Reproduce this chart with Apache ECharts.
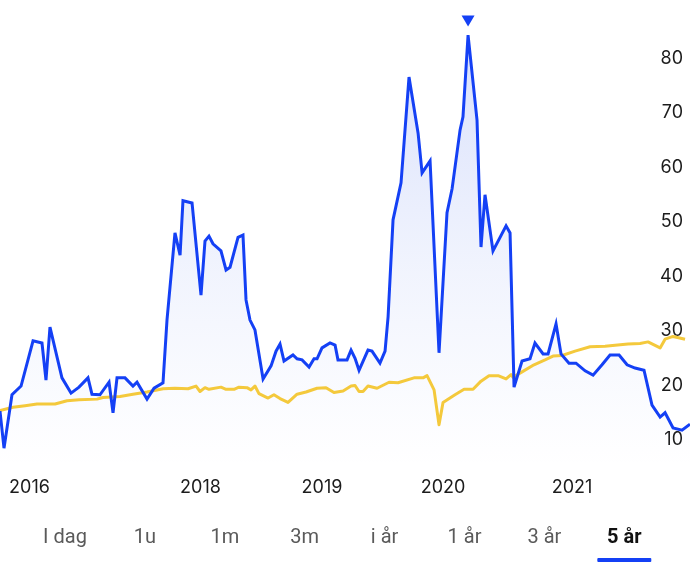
<!DOCTYPE html>
<html>
<head>
<meta charset="utf-8">
<script src="https://cdn.jsdelivr.net/npm/echarts@6/dist/echarts.min.js"></script>
<style>
  html, body { margin: 0; padding: 0; background: #ffffff; }
  #chart { width: 690px; height: 563px; }
</style>
</head>
<body>
<div id="chart"></div>
<script>
// ---- data (dates as decimal years) ----
const blueDates = [
  2016.350,2016.383,2016.449,2016.524,2016.623,2016.697,2016.730,2016.763,2016.862,2016.937,
  2017.003,2017.077,2017.110,2017.176,2017.251,2017.284,2017.317,2017.383,2017.449,2017.482,
  2017.565,2017.623,2017.697,2017.730,2017.796,2017.838,2017.862,2017.937,2018.011,2018.044,
  2018.077,2018.110,2018.176,2018.218,2018.251,2018.317,2018.358,2018.383,2018.416,2018.457,
  2018.524,2018.590,2018.631,2018.664,2018.697,2018.771,2018.805,2018.846,2018.904,2018.945,
  2018.970,2019.011,2019.077,2019.119,2019.143,2019.218,2019.251,2019.284,2019.317,2019.391,
  2019.424,2019.490,2019.532,2019.557,2019.598,2019.664,2019.730,2019.805,2019.838,2019.904,
  2019.978,2020.044,2020.086,2020.152,2020.176,2020.218,2020.292,2020.325,2020.358,2020.424,
  2020.532,2020.565,2020.598,2020.664,2020.730,2020.771,2020.838,2020.879,2020.945,2020.986,
  2021.052,2021.110,2021.185,2021.251,2021.325,2021.391,2021.466,2021.532,2021.598,2021.672,
  2021.738,2021.805,2021.846,2021.912,2021.986,2022.052
];
const blueValues = [
  15.3,8.5,18.3,19.9,28.2,27.8,21.0,30.7,21.4,18.6,
  19.7,21.4,18.4,18.3,20.6,15.0,21.4,21.4,19.9,20.6,
  17.5,19.5,20.5,32.0,48.0,43.9,53.9,53.5,36.6,46.5,
  47.4,46.0,44.7,41.2,41.7,47.2,47.6,35.7,32.0,30.2,
  21.2,23.6,26.3,27.6,24.5,25.6,24.9,24.7,23.4,24.9,
  24.9,26.9,27.8,27.4,24.7,24.7,26.5,25.0,22.8,26.5,
  26.3,24.1,26.3,32.6,50.4,57.2,76.6,66.3,59.0,61.2,
  26.0,51.7,56.1,66.9,69.3,84.3,68.7,45.4,55.0,44.7,
  49.3,48.0,19.7,24.5,24.9,27.8,25.8,25.8,31.3,25.8,
  24.1,24.1,22.7,21.9,23.8,25.6,25.6,23.8,23.2,22.8,
  16.4,14.2,15.0,12.2,11.8,12.9
];
const yellowDates = [
  2016.350,2016.457,2016.557,2016.656,2016.805,2016.904,2017.003,2017.152,2017.201,2017.342,
  2017.449,2017.565,2017.697,2017.796,2017.904,2017.970,2018.003,2018.044,2018.077,2018.176,
  2018.218,2018.284,2018.325,2018.391,2018.424,2018.457,2018.490,2018.565,2018.614,2018.664,
  2018.730,2018.805,2018.879,2018.970,2019.044,2019.110,2019.185,2019.251,2019.284,2019.317,
  2019.350,2019.391,2019.466,2019.565,2019.639,2019.771,2019.846,2019.879,2019.937,2019.978,
  2020.011,2020.110,2020.185,2020.259,2020.325,2020.391,2020.466,2020.532,2020.573,2020.590,
  2020.664,2020.763,2020.854,2020.920,2020.995,2021.102,2021.226,2021.350,2021.433,2021.540,
  2021.639,2021.705,2021.805,2021.846,2021.912,2022.011
];
const yellowValues = [
  15.4,16.0,16.3,16.6,16.6,17.2,17.4,17.5,17.8,18.0,
  18.4,18.8,19.4,19.5,19.4,19.9,18.9,19.6,19.3,19.7,
  19.3,19.3,19.7,19.6,19.2,19.9,18.5,17.7,18.3,17.6,
  16.9,18.4,18.8,19.5,19.6,18.7,19.0,19.9,20.0,18.9,
  18.9,19.9,19.5,20.6,20.5,21.4,21.4,21.8,19.2,12.8,
  16.9,18.3,19.3,19.3,20.8,21.8,21.8,21.2,22.0,21.5,
  22.5,23.8,24.7,25.4,25.5,26.3,27.1,27.2,27.4,27.6,
  27.7,28.0,26.9,28.5,29.0,28.5
];
const yTicks = [10, 20, 30, 40, 50, 60, 70, 80];
const xTickPos = [2016.594, 2018.007, 2019.011, 2020.011, 2021.077];
const xTickLabels = ['2016', '2018', '2019', '2020', '2021'];
const tabs = ['I dag', '1u', '1m', '3m', 'i år', '1 år', '3 år', '5 år'];
const activeTab = '5 år';

// ---- chart ----
const BLUE = '#1440f5';
const YELLOW = '#f4c93c';
const bluePairs = blueDates.map((d, i) => [d, blueValues[i]]);
const yellowPairs = yellowDates.map((d, i) => [d, yellowValues[i]]);

const tabElements = [];
tabs.forEach((t, i) => {
  const active = t === activeTab;
  tabElements.push({
    type: 'text',
    x: 65 + i * 79.9,
    y: 538,
    style: {
      text: t,
      fill: active ? '#111111' : '#5a5a5a',
      font: (active ? 'bold ' : '') + '20px Roboto',
      textAlign: 'center',
      textVerticalAlign: 'middle'
    }
  });
  if (active) {
    tabElements.push({
      type: 'rect',
      shape: { x: 65 + i * 79.9 - 27, y: 558, width: 54, height: 4, r: 1 },
      style: { fill: BLUE }
    });
  }
});

const chart = echarts.init(document.getElementById('chart'), null, { renderer: 'canvas' });
chart.setOption({
  animation: false,
  backgroundColor: '#ffffff',
  grid: { left: 0, right: 0, top: 4, height: 463.25, containLabel: false },
  xAxis: {
    type: 'value',
    min: 2016.35,
    max: 2022.052,
    axisLine: { show: false },
    axisTick: { show: false },
    splitLine: { show: false },
    axisLabel: {
      customValues: xTickPos,
      formatter: function (v) {
        let best = 0, bd = Infinity;
        xTickPos.forEach((p, i) => { const d = Math.abs(p - v); if (d < bd) { bd = d; best = i; } });
        return xTickLabels[best];
      },
      margin: 11,
      color: '#1c1c1c',
      fontSize: 18,
      fontFamily: 'Inter'
    }
  },
  yAxis: {
    type: 'value',
    position: 'right',
    min: 5,
    max: 90,
    axisLine: { show: false },
    axisTick: { show: false },
    splitLine: { show: false },
    axisLabel: {
      customValues: yTicks,
      inside: true,
      margin: 7,
      color: '#1c1c1c',
      fontSize: 18,
      fontFamily: 'Inter'
    }
  },
  series: [
    {
      name: 'area',
      type: 'line',
      data: bluePairs,
      showSymbol: false,
      lineStyle: { width: 0 },
      areaStyle: {
        origin: 'start',
        color: new echarts.graphic.LinearGradient(0, 0, 0, 1, [
          { offset: 0, color: 'rgba(45, 85, 235, 0.26)' },
          { offset: 0.55, color: 'rgba(60, 100, 235, 0.10)' },
          { offset: 1, color: 'rgba(80, 110, 235, 0.0)' }
        ])
      },
      z: 1,
      silent: true
    },
    {
      name: 'index',
      type: 'line',
      data: yellowPairs,
      showSymbol: false,
      lineStyle: { width: 3, color: YELLOW, join: 'round' },
      z: 2
    },
    {
      name: 'stock',
      type: 'line',
      data: bluePairs,
      showSymbol: false,
      lineStyle: { width: 3, color: BLUE, join: 'miter', miterLimit: 6 },
      itemStyle: { color: BLUE },
      markPoint: {
        symbol: 'triangle',
        symbolRotate: 180,
        symbolSize: [13, 11],
        symbolOffset: [0, -14],
        label: { show: false },
        itemStyle: { color: BLUE },
        data: [{ type: 'max' }]
      },
      z: 3
    }
  ],
  graphic: { elements: tabElements }
});
</script>
</body>
</html>
